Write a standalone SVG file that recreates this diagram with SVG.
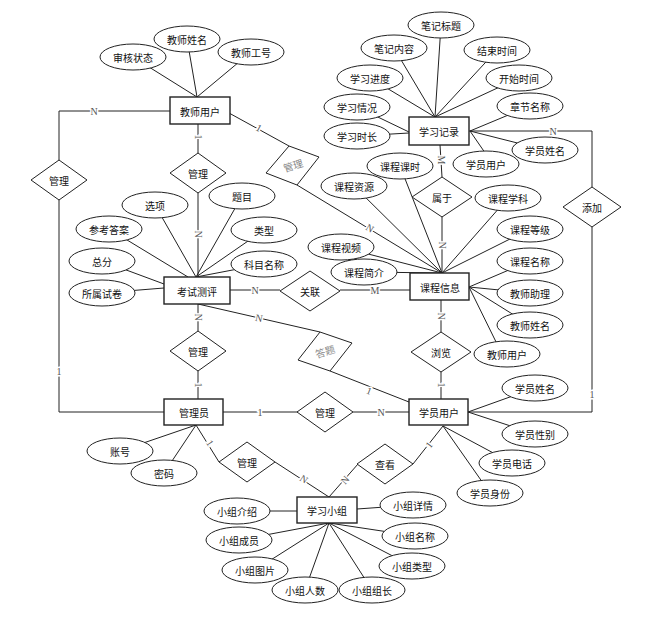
<svg xmlns="http://www.w3.org/2000/svg" width="648" height="628" viewBox="0 0 648 628">
<style>
.e{fill:#fff;stroke:#222;stroke-width:1}
.r{fill:#fff;stroke:#222;stroke-width:1.4}
.d{fill:#fff;stroke:#222;stroke-width:1}
.t{font-family:"Noto Sans CJK SC","Noto Sans CJK JP",sans-serif;font-size:10px;fill:#111;text-anchor:middle;dominant-baseline:central}
.g{fill:#888}
.c line,.c polyline{stroke:#222;stroke-width:1;fill:none}
.l{font-family:"Liberation Serif",serif;font-size:10px;fill:#555;text-anchor:middle;dominant-baseline:central;stroke:#fff;stroke-width:3;paint-order:stroke}
</style>
<rect width="648" height="628" fill="#fff"/>
<g id="connectors" class="c">
<!-- 教师用户 attributes -->
<line x1="133" y1="57" x2="197" y2="97"/>
<line x1="187" y1="39" x2="197" y2="97"/>
<line x1="251" y1="52" x2="197" y2="97"/>
<!-- 学习记录 attributes -->
<line x1="441" y1="25" x2="435" y2="117"/>
<line x1="394" y1="48" x2="435" y2="117"/>
<line x1="497" y1="50" x2="435" y2="117"/>
<line x1="370" y1="78" x2="435" y2="117"/>
<line x1="519" y1="78" x2="435" y2="117"/>
<line x1="357" y1="107" x2="409" y2="132"/>
<line x1="357" y1="136" x2="409" y2="133"/>
<line x1="530" y1="106" x2="470" y2="131"/>
<line x1="545" y1="150" x2="470" y2="131"/>
<line x1="490" y1="160" x2="470" y2="131"/>
<!-- 课程信息 attributes -->
<line x1="400" y1="166" x2="442" y2="273"/>
<line x1="354" y1="186" x2="442" y2="273"/>
<line x1="341" y1="247" x2="442" y2="273"/>
<line x1="364" y1="272" x2="442" y2="273"/>
<line x1="508" y1="198" x2="442" y2="273"/>
<line x1="530" y1="229" x2="442" y2="273"/>
<line x1="530" y1="261" x2="469" y2="287"/>
<line x1="530" y1="293" x2="469" y2="287"/>
<line x1="530" y1="325" x2="469" y2="287"/>
<line x1="500" y1="350" x2="469" y2="287"/>
<!-- 考试测评 attributes -->
<line x1="155" y1="205" x2="196" y2="277"/>
<line x1="242" y1="196" x2="196" y2="277"/>
<line x1="264" y1="230" x2="196" y2="277"/>
<line x1="264" y1="264" x2="196" y2="277"/>
<line x1="109" y1="229" x2="188" y2="277"/>
<line x1="102" y1="261" x2="164" y2="284"/>
<line x1="102" y1="293" x2="164" y2="288"/>
<!-- 学员用户 attributes -->
<line x1="535" y1="388" x2="468" y2="412"/>
<line x1="535" y1="434" x2="468" y2="412"/>
<line x1="512" y1="463" x2="443" y2="426"/>
<line x1="490" y1="493" x2="443" y2="426"/>
<!-- 管理员 attributes -->
<line x1="120" y1="451" x2="196" y2="425"/>
<line x1="164" y1="473" x2="196" y2="425"/>
<!-- 学习小组 attributes -->
<line x1="237" y1="511" x2="297" y2="511"/>
<line x1="413" y1="505" x2="357" y2="509"/>
<line x1="239" y1="540" x2="329" y2="523"/>
<line x1="255" y1="570" x2="329" y2="523"/>
<line x1="305" y1="590" x2="329" y2="523"/>
<line x1="372" y1="590" x2="329" y2="523"/>
<line x1="412" y1="566" x2="329" y2="523"/>
<line x1="415" y1="536" x2="329" y2="523"/>
<!-- relationships -->
<polyline points="170,111 59,111 59,160"/>
<polyline points="59,200 59,412 164,412"/>
<line x1="198" y1="124" x2="198" y2="153"/>
<line x1="198" y1="193" x2="198" y2="277"/>
<line x1="198" y1="304" x2="198" y2="331"/>
<line x1="198" y1="371" x2="198" y2="399"/>
<line x1="229" y1="113" x2="289" y2="146"/>
<line x1="297" y1="185" x2="442" y2="273"/>
<line x1="230" y1="290" x2="280" y2="290"/>
<line x1="340" y1="290" x2="410" y2="290"/>
<line x1="198" y1="304" x2="320" y2="332"/>
<line x1="330" y1="371" x2="409" y2="402"/>
<line x1="440" y1="145" x2="442" y2="177"/>
<line x1="442" y1="216" x2="442" y2="273"/>
<polyline points="469,131 592,131 592,187"/>
<polyline points="592,227 592,412 468,412"/>
<line x1="441" y1="300" x2="441" y2="332"/>
<line x1="441" y1="372" x2="441" y2="399"/>
<line x1="223" y1="412" x2="298" y2="412"/>
<line x1="353" y1="412" x2="409" y2="412"/>
<line x1="196" y1="425" x2="219" y2="462"/>
<line x1="275" y1="462" x2="329" y2="497"/>
<line x1="358" y1="464" x2="329" y2="497"/>
<line x1="413" y1="464" x2="443" y2="426"/>
</g>
<g id="labels">
<text class="l" x="94" y="111">N</text>
<text class="l" x="59" y="371">1</text>
<text class="l" transform="translate(198,137) rotate(90)">1</text>
<text class="l" transform="translate(198,234) rotate(90)">N</text>
<text class="l" transform="translate(198,317) rotate(90)">N</text>
<text class="l" transform="translate(198,385) rotate(90)">1</text>
<text class="l" transform="translate(259,128) rotate(29)">1</text>
<text class="l" transform="translate(370,228) rotate(31)">N</text>
<text class="l" x="255" y="290">N</text>
<text class="l" x="375" y="290">M</text>
<text class="l" transform="translate(259,318) rotate(12)">N</text>
<text class="l" transform="translate(369,391) rotate(21)">1</text>
<text class="l" transform="translate(441,160) rotate(90)">M</text>
<text class="l" transform="translate(442,245) rotate(90)">N</text>
<text class="l" x="553" y="131">N</text>
<text class="l" x="592" y="394">1</text>
<text class="l" transform="translate(441,316) rotate(90)">N</text>
<text class="l" transform="translate(441,385) rotate(90)">1</text>
<text class="l" x="260" y="412">1</text>
<text class="l" x="381" y="412">N</text>
<text class="l" transform="translate(210,443) rotate(57)">1</text>
<text class="l" transform="translate(304,479) rotate(33)">N</text>
<text class="l" transform="translate(345,480) rotate(-49)">N</text>
<text class="l" transform="translate(429,445) rotate(-52)">1</text>
</g>
<!-- entities -->
<g id="teacher"><rect class="r" x="170" y="97" width="60" height="27"/><text class="t" x="200" y="111">教师用户</text></g>
<g id="record"><rect class="r" x="409" y="117" width="60" height="28"/><text class="t" x="439" y="131">学习记录</text></g>
<g id="exam"><rect class="r" x="164" y="277" width="66" height="27"/><text class="t" x="197" y="291">考试测评</text></g>
<g id="course"><rect class="r" x="410" y="273" width="59" height="27"/><text class="t" x="440" y="287">课程信息</text></g>
<g id="admin"><rect class="r" x="164" y="399" width="59" height="26"/><text class="t" x="194" y="412">管理员</text></g>
<g id="student"><rect class="r" x="409" y="399" width="59" height="26"/><text class="t" x="439" y="412">学员用户</text></g>
<g id="group"><rect class="r" x="297" y="497" width="60" height="26"/><text class="t" x="327" y="510">学习小组</text></g>
<!-- relationships -->
<g id="rel-manage-left"><polygon class="d" points="59,160 87,180 59,200 31,180"/><text class="t" x="59" y="180">管理</text></g>
<g id="rel-manage-exam"><polygon class="d" points="198,153 226,173 198,193 170,173"/><text class="t" x="198" y="173">管理</text></g>
<g id="rel-manage-course"><polygon class="d" points="266,173 289,146 319,157 297,185"/><text class="t g" transform="translate(293,165) rotate(-17)">管理</text></g>
<g id="rel-answer"><polygon class="d" points="298,360 320,332 352,343 330,371"/><text class="t g" transform="translate(325,351) rotate(-17)">答题</text></g>
<g id="rel-relate"><polygon class="d" points="310,271 340,291 310,311 280,291"/><text class="t" x="310" y="291">关联</text></g>
<g id="rel-belong"><polygon class="d" points="442,177 472,197 442,217 412,197"/><text class="t" x="442" y="197">属于</text></g>
<g id="rel-add"><polygon class="d" points="592,187 621,207 592,227 563,207"/><text class="t" x="592" y="207">添加</text></g>
<g id="rel-manage-admin"><polygon class="d" points="198,331 226,351 198,371 170,351"/><text class="t" x="198" y="351">管理</text></g>
<g id="rel-browse"><polygon class="d" points="441,332 471,352 441,372 411,352"/><text class="t" x="441" y="352">浏览</text></g>
<g id="rel-manage-student"><polygon class="d" points="325,392 353,412 325,432 297,412"/><text class="t" x="325" y="412">管理</text></g>
<g id="rel-manage-group"><polygon class="d" points="247,442 275,462 247,482 219,462"/><text class="t" x="247" y="462">管理</text></g>
<g id="rel-view"><polygon class="d" points="385,444 413,464 385,484 357,464"/><text class="t" x="385" y="464">查看</text></g>
<!-- attributes -->
<g id="attributes">
<g id="a1"><ellipse class="e" cx="133" cy="57" rx="33" ry="13"/><text class="t" x="133" y="57">审核状态</text></g>
<g id="a2"><ellipse class="e" cx="187" cy="39" rx="33" ry="13"/><text class="t" x="187" y="39">教师姓名</text></g>
<g id="a3"><ellipse class="e" cx="251" cy="52" rx="33" ry="13"/><text class="t" x="251" y="52">教师工号</text></g>
<g id="a4"><ellipse class="e" cx="441" cy="25" rx="33" ry="13"/><text class="t" x="441" y="25">笔记标题</text></g>
<g id="a5"><ellipse class="e" cx="394" cy="48" rx="33" ry="13"/><text class="t" x="394" y="48">笔记内容</text></g>
<g id="a6"><ellipse class="e" cx="497" cy="50" rx="33" ry="13"/><text class="t" x="497" y="50">结束时间</text></g>
<g id="a7"><ellipse class="e" cx="370" cy="78" rx="33" ry="13"/><text class="t" x="370" y="78">学习进度</text></g>
<g id="a8"><ellipse class="e" cx="519" cy="78" rx="33" ry="13"/><text class="t" x="519" y="78">开始时间</text></g>
<g id="a9"><ellipse class="e" cx="357" cy="107" rx="33" ry="13"/><text class="t" x="357" y="107">学习情况</text></g>
<g id="a10"><ellipse class="e" cx="530" cy="106" rx="33" ry="13"/><text class="t" x="530" y="106">章节名称</text></g>
<g id="a11"><ellipse class="e" cx="357" cy="136" rx="33" ry="13"/><text class="t" x="357" y="136">学习时长</text></g>
<g id="a12"><ellipse class="e" cx="545" cy="150" rx="33" ry="13"/><text class="t" x="545" y="150">学员姓名</text></g>
<g id="a13"><ellipse class="e" cx="486" cy="164" rx="33" ry="13"/><text class="t" x="486" y="164">学员用户</text></g>
<g id="a14"><ellipse class="e" cx="400" cy="166" rx="33" ry="13"/><text class="t" x="400" y="166">课程课时</text></g>
<g id="a15"><ellipse class="e" cx="354" cy="186" rx="33" ry="13"/><text class="t" x="354" y="186">课程资源</text></g>
<g id="a16"><ellipse class="e" cx="508" cy="198" rx="33" ry="13"/><text class="t" x="508" y="198">课程学科</text></g>
<g id="a17"><ellipse class="e" cx="155" cy="205" rx="33" ry="13"/><text class="t" x="155" y="205">选项</text></g>
<g id="a18"><ellipse class="e" cx="242" cy="196" rx="33" ry="13"/><text class="t" x="242" y="196">题目</text></g>
<g id="a19"><ellipse class="e" cx="109" cy="229" rx="33" ry="13"/><text class="t" x="109" y="229">参考答案</text></g>
<g id="a20"><ellipse class="e" cx="264" cy="230" rx="33" ry="13"/><text class="t" x="264" y="230">类型</text></g>
<g id="a21"><ellipse class="e" cx="530" cy="229" rx="33" ry="13"/><text class="t" x="530" y="229">课程等级</text></g>
<g id="a22"><ellipse class="e" cx="341" cy="247" rx="33" ry="13"/><text class="t" x="341" y="247">课程视频</text></g>
<g id="a23"><ellipse class="e" cx="102" cy="261" rx="33" ry="13"/><text class="t" x="102" y="261">总分</text></g>
<g id="a24"><ellipse class="e" cx="264" cy="264" rx="33" ry="13"/><text class="t" x="264" y="264">科目名称</text></g>
<g id="a25"><ellipse class="e" cx="530" cy="261" rx="33" ry="13"/><text class="t" x="530" y="261">课程名称</text></g>
<g id="a26"><ellipse class="e" cx="364" cy="272" rx="33" ry="13"/><text class="t" x="364" y="272">课程简介</text></g>
<g id="a27"><ellipse class="e" cx="102" cy="293" rx="33" ry="13"/><text class="t" x="102" y="293">所属试卷</text></g>
<g id="a28"><ellipse class="e" cx="530" cy="293" rx="33" ry="13"/><text class="t" x="530" y="293">教师助理</text></g>
<g id="a29"><ellipse class="e" cx="530" cy="325" rx="33" ry="13"/><text class="t" x="530" y="325">教师姓名</text></g>
<g id="a30"><ellipse class="e" cx="507" cy="354" rx="33" ry="13"/><text class="t" x="507" y="354">教师用户</text></g>
<g id="a31"><ellipse class="e" cx="535" cy="388" rx="33" ry="13"/><text class="t" x="535" y="388">学员姓名</text></g>
<g id="a32"><ellipse class="e" cx="535" cy="434" rx="33" ry="13"/><text class="t" x="535" y="434">学员性别</text></g>
<g id="a33"><ellipse class="e" cx="512" cy="463" rx="33" ry="13"/><text class="t" x="512" y="463">学员电话</text></g>
<g id="a34"><ellipse class="e" cx="490" cy="493" rx="33" ry="13"/><text class="t" x="490" y="493">学员身份</text></g>
<g id="a35"><ellipse class="e" cx="120" cy="451" rx="33" ry="13"/><text class="t" x="120" y="451">账号</text></g>
<g id="a36"><ellipse class="e" cx="164" cy="473" rx="33" ry="13"/><text class="t" x="164" y="473">密码</text></g>
<g id="a37"><ellipse class="e" cx="237" cy="511" rx="33" ry="13"/><text class="t" x="237" y="511">小组介绍</text></g>
<g id="a38"><ellipse class="e" cx="239" cy="540" rx="33" ry="13"/><text class="t" x="239" y="540">小组成员</text></g>
<g id="a39"><ellipse class="e" cx="255" cy="570" rx="33" ry="13"/><text class="t" x="255" y="570">小组图片</text></g>
<g id="a40"><ellipse class="e" cx="305" cy="590" rx="33" ry="13"/><text class="t" x="305" y="590">小组人数</text></g>
<g id="a41"><ellipse class="e" cx="372" cy="590" rx="33" ry="13"/><text class="t" x="372" y="590">小组组长</text></g>
<g id="a42"><ellipse class="e" cx="413" cy="505" rx="33" ry="13"/><text class="t" x="413" y="505">小组详情</text></g>
<g id="a43"><ellipse class="e" cx="415" cy="536" rx="33" ry="13"/><text class="t" x="415" y="536">小组名称</text></g>
<g id="a44"><ellipse class="e" cx="412" cy="566" rx="33" ry="13"/><text class="t" x="412" y="566">小组类型</text></g>
</g>
</svg>
